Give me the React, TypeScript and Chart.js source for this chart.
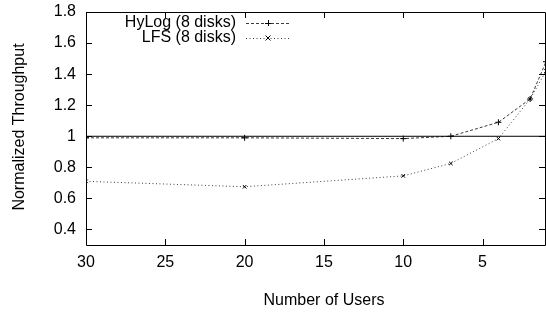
import React, { useEffect, useRef } from 'react';
import { Chart, registerables } from 'chart.js';

Chart.register(...registerables);

const users = [30, 20, 10, 7, 4, 2, 1];
const hylog = [0.99, 0.99, 0.985, 1.0, 1.09, 1.24, 1.48];
const lfs = [0.71, 0.675, 0.745, 0.825, 0.985, 1.24, 1.42];
const refLine = [1, 1];
const refX = [30, 1];
const yTicks = [0.4, 0.6, 0.8, 1.0, 1.2, 1.4, 1.6, 1.8];
const xTicks = [30, 25, 20, 15, 10, 5];
const seriesNames = ['HyLog (8 disks)', 'LFS (8 disks)'];
const xTitle = 'Number of Users';
const yTitle = 'Normalized Throughput';

const FAMILY = '"Liberation Sans", Arial, Helvetica, sans-serif';
const FSIZE = 16;
const FONT = `${FSIZE}px ${FAMILY}`;
const LINE_COLOR = 'rgb(60,60,60)';

const framePlugin = {
  id: 'gnuFrame',
  afterDraw(chart: any) {
    const { ctx, chartArea } = chart;
    const { left, right, top, bottom } = chartArea;
    const xs = chart.scales.x;
    const ys = chart.scales.y;
    ctx.save();
    ctx.strokeStyle = '#000';
    ctx.lineWidth = 1;
    ctx.setLineDash([]);
    ctx.beginPath();
    ctx.rect(Math.round(left) + 0.5, Math.round(top) + 0.5, Math.round(right - left) - 1, Math.round(bottom - top));
    ctx.stroke();
    const tl = 6;
    ctx.beginPath();
    yTicks.forEach((v) => {
      const py = Math.round(ys.getPixelForValue(v)) + 0.5;
      ctx.moveTo(left, py);
      ctx.lineTo(left + tl, py);
      ctx.moveTo(right - 1, py);
      ctx.lineTo(right - 1 - tl, py);
    });
    xTicks.forEach((v) => {
      const px = Math.round(xs.getPixelForValue(v)) + 0.5;
      ctx.moveTo(px, bottom);
      ctx.lineTo(px, bottom - tl);
      ctx.moveTo(px, top);
      ctx.lineTo(px, top + tl);
    });
    ctx.stroke();

    ctx.fillStyle = '#000';
    ctx.font = FONT;
    ctx.textAlign = 'center';
    ctx.textBaseline = 'middle';
    ctx.fillText(xTitle, 324, 301);
    ctx.save();
    ctx.translate(20, 127);
    ctx.rotate(-Math.PI / 2);
    ctx.fillText(yTitle, 0, 0);
    ctx.restore();

    const entries = [
      { name: seriesNames[0], y: 23, dash: [3, 2], style: 'cross', r: 3 },
      { name: seriesNames[1], y: 38, dash: [1, 2.5], style: 'crossRot', r: 2.5 },
    ];
    entries.forEach((e) => {
      ctx.textAlign = 'right';
      ctx.fillStyle = '#000';
      ctx.fillText(e.name, 236, e.y);
      ctx.strokeStyle = LINE_COLOR;
      ctx.setLineDash(e.dash);
      ctx.beginPath();
      ctx.moveTo(246, e.y + 0.5);
      ctx.lineTo(290, e.y + 0.5);
      ctx.stroke();
      ctx.setLineDash([]);
      ctx.strokeStyle = '#000';
      ctx.beginPath();
      if (e.style === 'cross') {
        ctx.moveTo(268 - e.r, e.y + 0.5);
        ctx.lineTo(268 + e.r, e.y + 0.5);
        ctx.moveTo(268.5, e.y - e.r);
        ctx.lineTo(268.5, e.y + e.r);
      } else {
        ctx.moveTo(268 - e.r, e.y - e.r);
        ctx.lineTo(268 + e.r, e.y + e.r);
        ctx.moveTo(268 - e.r, e.y + e.r);
        ctx.lineTo(268 + e.r, e.y - e.r);
      }
      ctx.stroke();
    });
    ctx.restore();
  },
};

export default function App() {
  const ref = useRef<HTMLCanvasElement | null>(null);
  useEffect(() => {
    if (!ref.current) return;
    const chart = new Chart(ref.current, {
      type: 'line',
      data: {
        datasets: [
          {
            label: 'ref',
            data: refX.map((x, i) => ({ x, y: refLine[i] })),
            borderColor: '#000',
            borderWidth: 1,
            pointRadius: 0,
            fill: false,
          },
          {
            label: seriesNames[0],
            data: users.map((x, i) => ({ x, y: hylog[i] })),
            borderColor: LINE_COLOR,
            borderWidth: 1,
            borderDash: [3, 2],
            pointStyle: 'cross',
            pointRadius: 3,
            pointBorderColor: '#000',
            pointBorderWidth: 1,
            fill: false,
          },
          {
            label: seriesNames[1],
            data: users.map((x, i) => ({ x, y: lfs[i] })),
            borderColor: LINE_COLOR,
            borderWidth: 1,
            borderDash: [1, 2.5],
            pointStyle: 'crossRot',
            pointRadius: 2.5,
            pointBorderColor: '#000',
            pointBorderWidth: 1,
            fill: false,
          },
        ],
      },
      options: {
        responsive: false,
        animation: false,
        devicePixelRatio: 1,
        layout: { autoPadding: false, padding: { left: 0, right: 0, top: 12, bottom: 0 } },
        plugins: { legend: { display: false }, tooltip: { enabled: false }, title: { display: false } },
        scales: {
          x: {
            type: 'linear',
            reverse: true,
            min: 1,
            max: 30,
            grid: { display: false, drawTicks: false },
            border: { display: false },
            afterBuildTicks: (s: any) => {
              s.ticks = xTicks.map((v) => ({ value: v }));
            },
            afterFit: (s: any) => {
              s.height = 67;
              s.paddingLeft = 0;
              s.paddingRight = 0;
            },
            ticks: {
              color: '#000',
              font: { family: FAMILY, size: FSIZE },
              padding: 8,
              maxRotation: 0,
              autoSkip: false,
              callback: (v: any) => String(v),
            },
          },
          y: {
            type: 'linear',
            min: 0.3,
            max: 1.8,
            grid: { display: false, drawTicks: false },
            border: { display: false },
            afterBuildTicks: (s: any) => {
              s.ticks = yTicks.map((v) => ({ value: v }));
            },
            afterFit: (s: any) => {
              s.width = 86;
              s.paddingTop = 0;
              s.paddingBottom = 0;
            },
            ticks: {
              color: '#000',
              font: { family: FAMILY, size: FSIZE },
              padding: 10,
              autoSkip: false,
              callback: (v: any) => String(+Number(v).toFixed(1)),
            },
          },
        },
      },
      plugins: [framePlugin],
    });
    return () => chart.destroy();
  }, []);
  return (
    <div style={{ position: 'absolute', left: 0, top: 0, width: 546, height: 312 }}>
      <canvas ref={ref} width={546} height={312} />
    </div>
  );
}
